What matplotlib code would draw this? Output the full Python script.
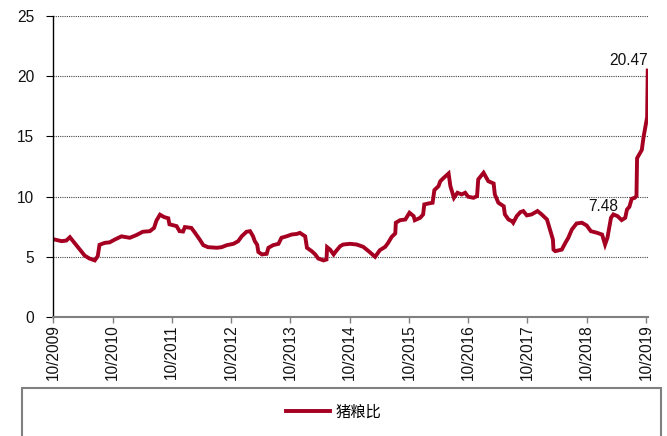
import matplotlib
matplotlib.use('Agg')
import matplotlib.pyplot as plt
from matplotlib import font_manager
from matplotlib.patches import Rectangle

# ---------------- data (decimal years, ratio) ----------------
years = [2009.77, 2009.89, 2009.97, 2010.03, 2010.28, 2010.36, 2010.45, 2010.50, 2010.53, 2010.62,
         2010.70, 2010.79, 2010.90, 2011.04, 2011.15, 2011.26, 2011.38, 2011.45, 2011.49, 2011.55,
         2011.62, 2011.69, 2011.71, 2011.83, 2011.88, 2011.94, 2011.97, 2012.08, 2012.14, 2012.22,
         2012.28, 2012.36, 2012.51, 2012.59, 2012.68, 2012.79, 2012.87, 2012.93, 2013.01, 2013.07,
         2013.12, 2013.15, 2013.19, 2013.21, 2013.27, 2013.35, 2013.38, 2013.46, 2013.55, 2013.60,
         2013.69, 2013.77, 2013.86, 2013.91, 2014.00, 2014.03, 2014.11, 2014.17, 2014.22, 2014.31,
         2014.36, 2014.37, 2014.42, 2014.48, 2014.52, 2014.59, 2014.64, 2014.76, 2014.87, 2014.98,
         2015.07, 2015.18, 2015.26, 2015.35, 2015.40, 2015.46, 2015.52, 2015.53, 2015.60, 2015.69,
         2015.76, 2015.83, 2015.85, 2015.94, 2015.99, 2016.01, 2016.08, 2016.15, 2016.18, 2016.25,
         2016.28, 2016.34, 2016.42, 2016.45, 2016.51, 2016.57, 2016.64, 2016.70, 2016.75, 2016.84,
         2016.90, 2016.92, 2017.01, 2017.09, 2017.18, 2017.20, 2017.26, 2017.35, 2017.37, 2017.43,
         2017.49, 2017.51, 2017.57, 2017.63, 2017.68, 2017.74, 2017.82, 2017.92, 2017.99, 2018.08,
         2018.13, 2018.18, 2018.19, 2018.22, 2018.33, 2018.39, 2018.44, 2018.50, 2018.58, 2018.67,
         2018.75, 2018.82, 2018.92, 2019.01, 2019.06, 2019.10, 2019.16, 2019.20, 2019.27, 2019.34,
         2019.40, 2019.43, 2019.47, 2019.51, 2019.56, 2019.59, 2019.60, 2019.68, 2019.71, 2019.77,
         2019.78]
ratio = [6.44, 6.30, 6.35, 6.63, 5.10, 4.86, 4.70, 5.05, 6.00, 6.16,
         6.20, 6.44, 6.70, 6.58, 6.80, 7.08, 7.13, 7.40, 8.00, 8.50,
         8.30, 8.20, 7.70, 7.55, 7.13, 7.10, 7.47, 7.40, 7.00, 6.44,
         5.97, 5.80, 5.75, 5.80, 5.97, 6.08, 6.30, 6.71, 7.08, 7.13,
         6.71, 6.30, 6.00, 5.40, 5.20, 5.25, 5.75, 5.97, 6.08, 6.58,
         6.71, 6.85, 6.90, 6.99, 6.70, 5.75, 5.47, 5.20, 4.86, 4.70,
         4.78, 5.80, 5.60, 5.20, 5.47, 5.88, 6.02, 6.08, 6.02, 5.83,
         5.47, 5.00, 5.55, 5.83, 6.16, 6.66, 6.94, 7.83, 8.04, 8.10,
         8.66, 8.38, 8.04, 8.24, 8.52, 9.35, 9.43, 9.49, 10.54, 10.87,
         11.28, 11.57, 11.92, 10.87, 9.90, 10.32, 10.18, 10.32, 9.99, 9.90,
         10.04, 11.43, 11.98, 11.28, 11.09, 10.18, 9.49, 9.20, 8.52, 8.10,
         7.96, 7.83, 8.38, 8.71, 8.80, 8.44, 8.52, 8.80, 8.52, 8.10,
         7.27, 6.44, 5.60, 5.47, 5.60, 6.16, 6.58, 7.27, 7.77, 7.83,
         7.60, 7.13, 7.00, 6.85, 6.02, 6.58, 8.24, 8.52, 8.38, 8.05,
         8.24, 8.93, 9.15, 9.82, 9.90, 10.04, 13.19, 13.88, 14.97, 16.60,
         20.47]
tick_pos = [2009.75, 2010.75, 2011.75, 2012.75, 2013.75, 2014.75, 2015.75, 2016.75, 2017.75, 2018.75, 2019.75]
tick_labels = ['10/2009', '10/2010', '10/2011', '10/2012', '10/2013', '10/2014',
               '10/2015', '10/2016', '10/2017', '10/2018', '10/2019']
y_ticks = [0, 5, 10, 15, 20, 25]
series_name = '猪粮比'
label_last = '20.47'
label_prev = '7.48'

# ---------------- fonts ----------------
names = {f.name for f in font_manager.fontManager.ttflist}
if 'Liberation Sans Narrow' in names:
    NUM_FONT, NUM_SIZE = 'Liberation Sans Narrow', 13.5
else:
    NUM_FONT, NUM_SIZE = 'Liberation Sans', 11.2

RED = '#A50021'

fig = plt.figure(figsize=(6.67, 4.36), dpi=100)
ax = fig.add_axes([0.0799, 0.2729, 0.8921, 0.6904])

line, = ax.plot(years, ratio, color=RED, lw=2.8, solid_joinstyle='miter', label=series_name)

ax.set_xlim(2009.75, 2019.79)
ax.set_ylim(0, 25)
ax.set_yticks(y_ticks)
ax.set_xticks(tick_pos)
ax.set_xticklabels(tick_labels, rotation=90)

ax.yaxis.grid(True, linestyle=(0, (1, 1)), color='#444444', lw=0.8)
ax.set_axisbelow(True)

for s in ['top', 'right']:
    ax.spines[s].set_visible(False)
ax.spines['left'].set_color('black')
ax.spines['left'].set_linewidth(1.0)
ax.spines['bottom'].set_color('#808080')
ax.spines['bottom'].set_linewidth(1.5)

ax.tick_params(axis='y', direction='out', length=4.7, width=0.8, color='black',
               pad=9, labelsize=NUM_SIZE, labelfontfamily=NUM_FONT, labelcolor='#111111')
ax.tick_params(axis='x', direction='out', length=4.3, width=1.0, color='#808080',
               pad=1, labelsize=NUM_SIZE, labelfontfamily=NUM_FONT, labelcolor='#111111')

# value annotations
ax.text(years[-1] + 0.01, 20.9, label_last, ha='right', va='baseline',
        fontsize=NUM_SIZE, family=NUM_FONT, color='#111111')
ax.text(2019.28, 8.77, label_prev, ha='right', va='baseline',
        fontsize=NUM_SIZE, family=NUM_FONT, color='#111111')

# legend box
rect = Rectangle((22 / 667, -0.05), (661 - 22) / 667, (1 - 388 / 436) + 0.05,
                 transform=fig.transFigure, fill=False, edgecolor='#808080', lw=1.5)
fig.patches.append(rect)

fig.legend(handles=[line], labels=[series_name], loc='center', bbox_to_anchor=(0.5, 1 - 412 / 436),
           frameon=False, handlelength=2.9, handletextpad=0.3,
           prop={'family': ['Noto Sans CJK SC', 'DejaVu Sans'], 'size': 11})

fig.savefig('out.png', dpi=100)
